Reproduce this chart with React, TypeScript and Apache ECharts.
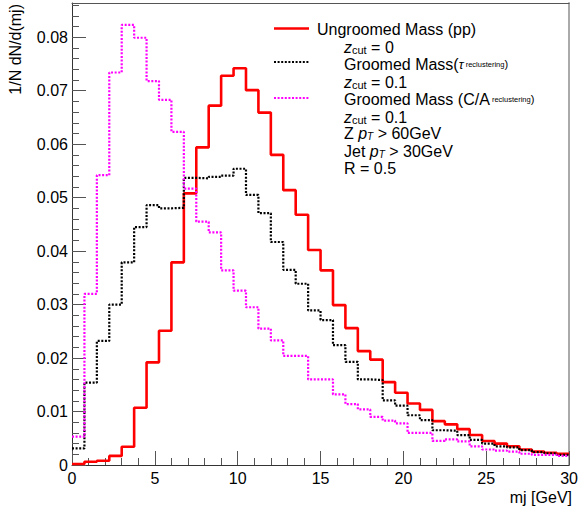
import React, { useEffect, useRef } from "react";
import * as echarts from "echarts";

const F = "'Liberation Sans', Arial, Helvetica, sans-serif";

// Histogram: 40 bins of 0.75 GeV from 0 to 30
const BIN_WIDTH = 0.75;
const X_MAX = 30;

const ungroomed = [
  0.0002, 0.0006, 0.0008, 0.0017, 0.0034, 0.0107, 0.0192, 0.0251, 0.0379, 0.0508,
  0.0594, 0.0672, 0.0728, 0.0742, 0.0701, 0.0659, 0.058, 0.0514, 0.0468, 0.0402,
  0.0364, 0.0299, 0.0256, 0.0213, 0.0197, 0.0155, 0.0135, 0.0115, 0.0103, 0.0082,
  0.0076, 0.0067, 0.0056, 0.0045, 0.004, 0.0035, 0.0029, 0.0025, 0.0023, 0.0021,
];

const groomedTau = [
  0.0031, 0.0154, 0.0232, 0.03, 0.0379, 0.0445, 0.0486, 0.048, 0.0481, 0.0537,
  0.0536, 0.0539, 0.0541, 0.0554, 0.0505, 0.0471, 0.0417, 0.0365, 0.0339, 0.0289,
  0.0271, 0.0224, 0.0193, 0.016, 0.0159, 0.0121, 0.0111, 0.0093, 0.0084, 0.0065,
  0.0064, 0.0056, 0.0047, 0.004, 0.0035, 0.0033, 0.0028, 0.0024, 0.0022, 0.0019,
];

const groomedCA = [
  0.0053, 0.032, 0.0542, 0.0734, 0.0823, 0.0799, 0.0718, 0.0683, 0.0623, 0.0517,
  0.0455, 0.0435, 0.0364, 0.0326, 0.0295, 0.0255, 0.0233, 0.0204, 0.0204, 0.016,
  0.016, 0.0132, 0.0114, 0.0104, 0.009, 0.0083, 0.0078, 0.006, 0.006, 0.0045,
  0.0048, 0.0044, 0.0035, 0.0029, 0.0027, 0.0025, 0.0021, 0.0019, 0.0019, 0.0017,
];

const Y_MAX = 0.0864;

function histPoints(vals: number[]) {
  const pts = vals.map((v, i) => [i * BIN_WIDTH, v]);
  pts.push([X_MAX, vals[vals.length - 1]]);
  return pts;
}

const LH = 16;
const rich = {
  m: { fontSize: 16, fontFamily: F, color: "#000", lineHeight: LH },
  i: { fontSize: 16, fontFamily: F, color: "#000", fontStyle: "italic", lineHeight: LH },
  sub: { fontSize: 11, fontFamily: F, color: "#000", lineHeight: 9, verticalAlign: "bottom" },
  isub: { fontSize: 10, fontFamily: F, color: "#000", fontStyle: "italic", lineHeight: 9, verticalAlign: "bottom" },
  tau: { fontSize: 13, fontFamily: F, color: "#000", fontStyle: "italic", lineHeight: LH },
  tiny: { fontSize: 7.5, fontFamily: F, color: "#444", lineHeight: LH },
  small: { fontSize: 11, fontFamily: F, color: "#000", lineHeight: LH },
};

function txt(x: number, y: number, text: string) {
  return {
    type: "text",
    x,
    y,
    silent: true,
    style: { text, rich, verticalAlign: "middle", align: "left", font: `16px ${F}` },
  };
}

export default function App() {
  const ref = useRef<HTMLDivElement>(null);
  useEffect(() => {
    document.body.style.margin = "0";
    const chart = echarts.init(ref.current!, undefined, { renderer: "svg" });
    const tickColor = "#555";
    const option: any = {
      animation: false,
      backgroundColor: "#fff",
      grid: { left: 72, right: 9, top: 3, bottom: 49, containLabel: false },
      xAxis: [
        {
          type: "value",
          min: 0,
          max: X_MAX,
          interval: 5,
          position: "bottom",
          axisLine: { show: true, onZero: false, lineStyle: { color: "#333", width: 1 } },
          axisTick: { show: true, inside: true, length: 14, lineStyle: { color: tickColor } },
          minorTick: { show: true, splitNumber: 5, length: 7, lineStyle: { color: tickColor } },
          axisLabel: { fontSize: 16, color: "#000", fontFamily: F, margin: 5 },
          splitLine: { show: false },
          minorSplitLine: { show: false },
        },
        {
          type: "value",
          min: 0,
          max: X_MAX,
          position: "top",
          axisLine: { show: true, onZero: false, lineStyle: { color: "#555", width: 1 } },
          axisTick: { show: false },
          axisLabel: { show: false },
          splitLine: { show: false },
        },
      ],
      yAxis: [
        {
          type: "value",
          min: 0,
          max: Y_MAX,
          interval: 0.01,
          position: "left",
          axisLine: { show: true, onZero: false, lineStyle: { color: "#333", width: 1 } },
          axisTick: { show: true, inside: true, length: 14, lineStyle: { color: tickColor } },
          axisLabel: {
            fontSize: 16,
            color: "#000",
            fontFamily: F,
            margin: 4,
            showMaxLabel: false,
            formatter: (v: number) => (v === 0 ? "0" : v.toFixed(2)),
          },
          splitLine: { show: false },
        },
        {
          type: "value",
          min: 0,
          max: Y_MAX,
          interval: 0.002,
          position: "left",
          axisLine: { show: false },
          axisTick: { show: true, inside: true, length: 7, lineStyle: { color: tickColor } },
          axisLabel: { show: false },
          splitLine: { show: false },
        },
        {
          type: "value",
          min: 0,
          max: Y_MAX,
          position: "right",
          axisLine: { show: true, onZero: false, lineStyle: { color: "#aaa", width: 2 } },
          axisTick: { show: false },
          axisLabel: { show: false },
          splitLine: { show: false },
        },
      ],
      series: [
        {
          name: "Ungroomed Mass (pp)",
          type: "line",
          step: "end",
          xAxisIndex: 0,
          yAxisIndex: 0,
          data: histPoints(ungroomed),
          showSymbol: false,
          symbol: "none",
          silent: true,
          lineStyle: { color: "#ff0000", width: 2.6 },
        },
        {
          name: "Groomed Mass (tau)",
          type: "line",
          step: "end",
          xAxisIndex: 0,
          yAxisIndex: 0,
          data: histPoints(groomedTau),
          showSymbol: false,
          symbol: "none",
          silent: true,
          lineStyle: { color: "#000000", width: 2.2, type: [2, 1.6] },
        },
        {
          name: "Groomed Mass (C/A)",
          type: "line",
          step: "end",
          xAxisIndex: 0,
          yAxisIndex: 0,
          data: histPoints(groomedCA),
          showSymbol: false,
          symbol: "none",
          silent: true,
          lineStyle: { color: "#ff00ff", width: 2.2, type: [2, 1.6] },
        },
      ],
      graphic: [
        {
          type: "text",
          x: 15,
          y: 4,
          rotation: Math.PI / 2,
          silent: true,
          style: {
            text: "1/N dN/d(mj)",
            font: `16px ${F}`,
            fill: "#000",
            align: "right",
            verticalAlign: "middle",
          },
        },
        {
          type: "text",
          x: 572,
          y: 497,
          silent: true,
          style: {
            text: "mj [GeV]",
            font: `16px ${F}`,
            fill: "#000",
            align: "right",
            verticalAlign: "middle",
          },
        },
        {
          type: "line",
          silent: true,
          shape: { x1: 274, y1: 28.5, x2: 309, y2: 28.5 },
          style: { stroke: "#ff0000", lineWidth: 2.6 },
        },
        {
          type: "line",
          silent: true,
          shape: { x1: 274, y1: 62, x2: 309, y2: 62 },
          style: { stroke: "#000", lineWidth: 2, lineDash: [2, 1.6] },
        },
        {
          type: "line",
          silent: true,
          shape: { x1: 274, y1: 98, x2: 309, y2: 98 },
          style: { stroke: "#ff00ff", lineWidth: 2, lineDash: [2, 1.6] },
        },
        txt(317, 29, "{m|Ungroomed Mass (pp)}"),
        txt(344, 47, "{i|z}{sub|cut}{m| = 0}"),
        txt(344, 64, "{m|Groomed Mass(}{tau|τ}{tiny| reclustering}{small|)}"),
        txt(344, 82, "{i|z}{sub|cut}{m| = 0.1}"),
        txt(344, 99, "{m|Groomed Mass (C/A}{tiny| reclustering}{small|)}"),
        txt(344, 117, "{i|z}{sub|cut}{m| = 0.1}"),
        txt(344, 133.5, "{m|Z }{i|p}{isub|T}{m| > 60GeV}"),
        txt(344, 151, "{m|Jet }{i|p}{isub|T}{m| > 30GeV}"),
        txt(344, 168, "{m|R = 0.5}"),
      ],
    };
    chart.setOption(option);
    return () => chart.dispose();
  }, []);
  return (
    <div
      ref={ref}
      style={{ position: "fixed", left: 0, top: 0, width: 581, height: 514 }}
    />
  );
}
